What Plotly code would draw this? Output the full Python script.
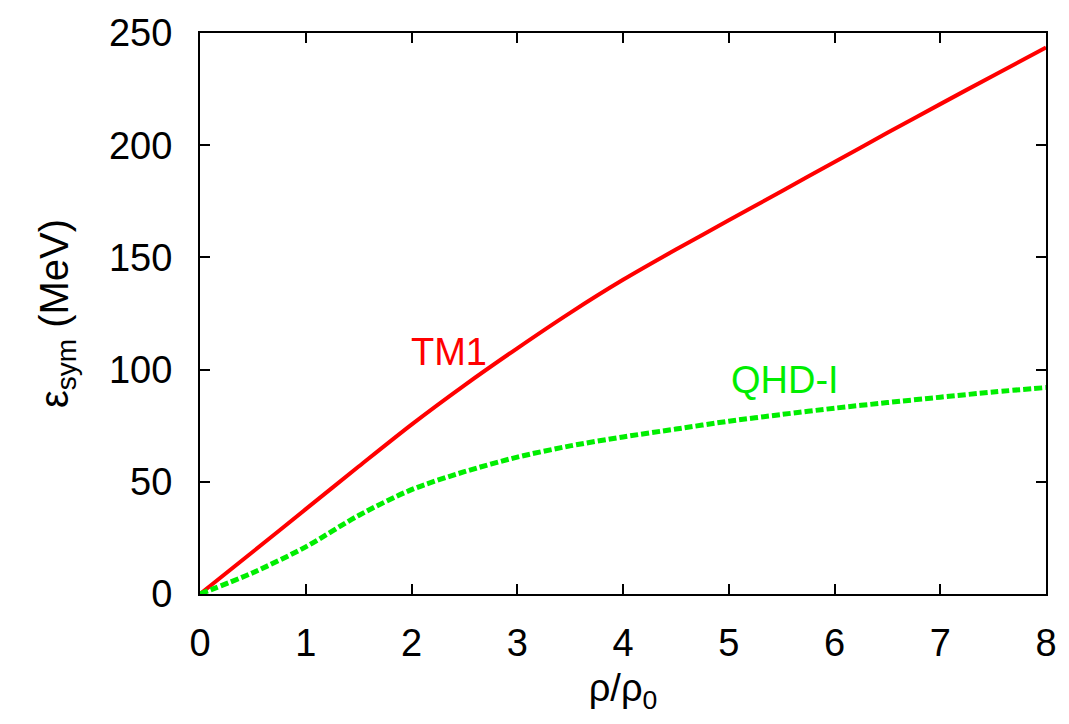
import plotly.graph_objects as go

# density ratio rho/rho0
density = [0.0, 0.5, 1.0, 1.5, 2.0, 2.5, 3.0, 3.5, 4.0, 4.5, 5.0, 5.5, 6.0, 6.5, 7.0, 7.5, 8.0]

# symmetry energy (MeV) for the two parameter sets
tm1 = [0.0, 18.8, 37.8, 56.8, 75.5, 93.0, 109.5, 125.3, 140.0, 153.5, 166.5, 179.5, 192.5, 205.5, 218.3, 231.0, 243.5]
qhd1 = [0.0, 9.5, 21.0, 35.0, 46.5, 54.5, 61.0, 66.0, 70.0, 73.5, 77.0, 80.0, 82.8, 85.3, 87.7, 90.0, 92.0]

x_ticks = [0, 1, 2, 3, 4, 5, 6, 7, 8]
y_ticks = [0, 50, 100, 150, 200, 250]

FONT = "Liberation Sans, Arial, Helvetica, sans-serif"
RED = "#ff0000"
GREEN = "#00ee00"

fig = go.Figure()
fig.add_trace(go.Scatter(x=density, y=tm1, mode="lines", name="TM1",
                         line=dict(color=RED, width=4, shape="spline", smoothing=0.8)))
fig.add_trace(go.Scatter(x=density, y=qhd1, mode="lines", name="QHD-I",
                         line=dict(color=GREEN, width=5, dash="8px,3px", shape="spline", smoothing=0.8)))

fig.add_annotation(x=2.35, y=108, text="TM1", showarrow=False,
                   font=dict(family=FONT, size=38, color=RED))
fig.add_annotation(x=5.53, y=95.5, text="QHD-I", showarrow=False,
                   font=dict(family=FONT, size=38, color=GREEN))

axis_common = dict(showline=True, linecolor="black", linewidth=2, mirror="ticks",
                   ticks="inside", ticklen=10, tickwidth=2, tickcolor="black",
                   showgrid=False, zeroline=False,
                   tickfont=dict(family=FONT, size=38, color="black"))

fig.update_xaxes(range=[0, 8], tickvals=x_ticks, ticktext=[str(v) for v in x_ticks],
                 ticklabelstandoff=14,
                 title=dict(text="ρ/ρ<sub>0</sub>", font=dict(family=FONT, size=38, color="black"), standoff=12),
                 **axis_common)
fig.update_yaxes(range=[0, 250], tickvals=y_ticks, ticktext=[str(v) for v in y_ticks],
                 ticklabelstandoff=18,
                 title=dict(text="ε<sub>sym</sub> (MeV)", font=dict(family=FONT, size=40, color="black"), standoff=28),
                 **axis_common)

fig.update_layout(width=1069, height=724, showlegend=False,
                  plot_bgcolor="white", paper_bgcolor="white",
                  margin=dict(l=200, r=22, t=30, b=130))

fig.write_html("out.html")
